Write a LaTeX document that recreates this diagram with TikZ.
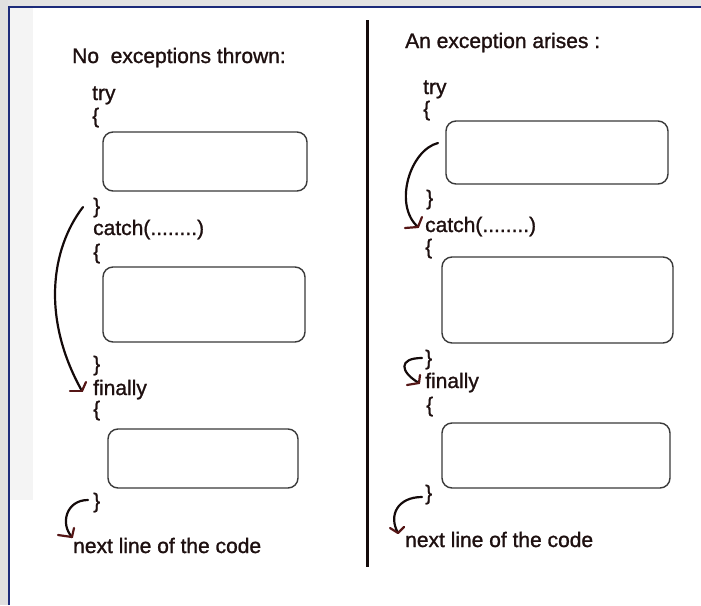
\documentclass[tikz,border=0pt]{standalone}
\usepackage{fontspec}
\setmainfont{Liberation Sans}
\newfontfamily\codefont[FakeBold=1.2]{Liberation Sans}
\usetikzlibrary{calc}
\definecolor{inkc}{HTML}{1E1010}
\definecolor{penc}{HTML}{140A0A}
\definecolor{tipc}{HTML}{551616}
\definecolor{framec}{HTML}{1C2B7A}
\definecolor{boxc}{HTML}{3A3A3A}
\tikzset{
  code/.style={anchor=base west, inner sep=0pt, text=inkc,
    font=\codefont\fontsize{21}{24}\selectfont},
  codebox/.style={draw=boxc, line width=1.4pt, rounded corners=10pt,
    inner sep=0pt, fill=white},
  pen/.style={draw=penc, line width=2.2pt, line cap=round},
  barb/.style={draw=tipc, line width=2.2pt, line cap=round},
}
\begin{document}
\begin{tikzpicture}[x=1pt, y=-1pt]
\useasboundingbox (0,0) rectangle (701,605);
% page backdrop and frame
\fill[white] (0,0) rectangle (701,605);
\fill[gray!22] (0,0) rectangle (701,6);
\fill[gray!24] (0,0) rectangle (8,605);
\fill[gray!9] (10,8) rectangle (33,500);
\draw[framec, line width=2.2pt] (9,605) -- (9,7) -- (701,7);

% ---------- left column: no exception ----------
\node[code] (ltitle) at (72,63) {No\ \ exceptions thrown:};
\node[code] (ltry) at (92,100) {try};
\node[code] (lob1) at (92,123) {\{};
\node[codebox, minimum width=204pt, minimum height=59pt] (lbox1) at (205,161.5) {};
\node[code] (lcb1) at (93,213) {\}};
\node[code] (lcatch) at (93,235) {catch(........)};
\node[code] (lob2) at (93,259) {\{};
\node[codebox, minimum width=202pt, minimum height=75pt] (lbox2) at (204,304.5) {};
\node[code] (lcb2) at (93,371) {\}};
\node[code] (lfin) at (93,395) {finally};
\node[code] (lob3) at (93,416) {\{};
\node[codebox, minimum width=190pt, minimum height=59pt] (lbox3) at (203,458.5) {};
\node[code] (lcb3) at (93,508) {\}};
\node[code] (lnext) at (73,553) {next line of the code};

% jump from the end of try straight to finally
\coordinate (la) at (83,207);
\coordinate (lat) at (82,391);
\draw[pen] (la) .. controls (50,250) and (42,320) .. (lat);
\draw[barb] (lat) -- ++(-12,0);
\draw[barb] (lat) -- ++(4,-9);

% from finally on to the next line
\coordinate (lb) at (88,500);
\coordinate (lbt) at (72,537);
\draw[pen] (lb) .. controls (66,500) and (60,524) .. (lbt);
\draw[barb] (lbt) -- ++(-14,-2);
\draw[barb] (lbt) -- ++(2,-9);

% divider
\coordinate (dtop) at (367,20);
\coordinate (dbot) at (367,567);
\draw[penc, line width=3pt] (dtop) -- (dbot);

% ---------- right column: exception raised ----------
\node[code] (rtitle) at (405,48) {An exception arises :};
\node[code] (rtry) at (423,94) {try};
\node[code] (rob1) at (423,116) {\{};
\node[codebox, minimum width=222pt, minimum height=63pt] (rbox1) at (557,152.5) {};
\node[code] (rcb1) at (426,205) {\}};
\node[code] (rcatch) at (425,232) {catch(........)};
\node[code] (rob2) at (425,254) {\{};
\node[codebox, minimum width=231pt, minimum height=86pt] (rbox2) at (557.5,300) {};
\node[code] (rcb2) at (425,365) {\}};
\node[code] (rfin) at (425,388) {finally};
\node[code] (rob3) at (426,412) {\{};
\node[codebox, minimum width=228pt, minimum height=65pt] (rbox3) at (556,455.5) {};
\node[code] (rcb3) at (425,500) {\}};
\node[code] (rnext) at (405,547) {next line of the code};

% from inside try down to catch
\coordinate (ra) at (438,143);
\coordinate (rat) at (418,227);
\draw[pen] (ra) .. controls (410,150) and (393,205) .. (rat);
\draw[barb] (rat) -- ++(-13,1);
\draw[barb] (rat) -- ++(4,-10);

% from catch on to finally
\coordinate (rb) at (422,358);
\coordinate (rbt) at (419,383);
\draw[pen] (rb) .. controls (398,358) and (400,372) .. (rbt);
\draw[barb] (rbt) -- ++(-12,2);
\draw[barb] (rbt) -- ++(1,-8);

% from finally on to the next line
\coordinate (rc) at (422,497);
\coordinate (rct) at (398,533);
\draw[pen] (rc) .. controls (398,497) and (388,515) .. (rct);
\draw[barb] (rct) -- ++(-8,-5);
\draw[barb] (rct) -- ++(6,-6);
\end{tikzpicture}
\end{document}
